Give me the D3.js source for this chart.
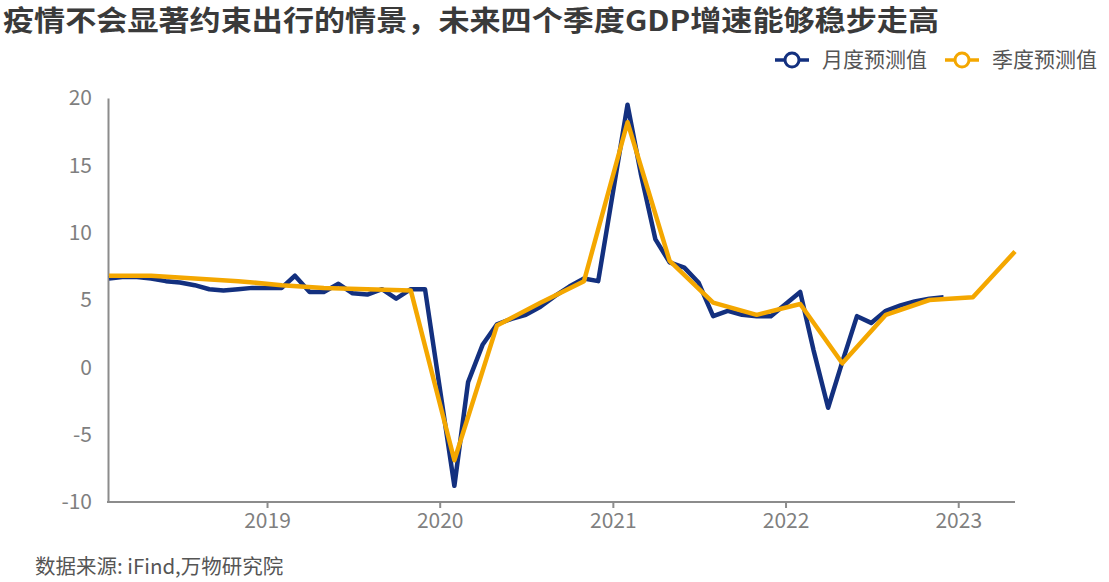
<!DOCTYPE html>
<html><head><meta charset="utf-8">
<script src="https://cdn.jsdelivr.net/npm/d3@7/dist/d3.min.js"></script>
<style>
body{margin:0;background:#fff;}
svg{display:block;font-family:"Noto Sans CJK SC","Noto Sans",sans-serif;}
</style></head><body>
<svg id="c" width="1109" height="582"></svg>
<script>
const title = "疫情不会显著约束出行的情景，未来四个季度GDP增速能够稳步走高";
const source = "数据来源: iFind,万物研究院";
const seriesNames = ["月度预测值", "季度预测值"];

// Monthly estimate (null = no monthly reading, e.g. January)
const monthlyDates = ["2018-02","2018-03","2018-04","2018-05","2018-06","2018-07","2018-08","2018-09","2018-10","2018-11","2018-12",
  "2019-01","2019-02","2019-03","2019-04","2019-05","2019-06","2019-07","2019-08","2019-09","2019-10","2019-11","2019-12",
  "2020-01","2020-02","2020-03","2020-04","2020-05","2020-06","2020-07","2020-08","2020-09","2020-10","2020-11","2020-12",
  "2021-01","2021-02","2021-03","2021-04","2021-05","2021-06","2021-07","2021-08","2021-09","2021-10","2021-11","2021-12",
  "2022-01","2022-02","2022-03","2022-04","2022-05","2022-06","2022-07","2022-08","2022-09","2022-10","2022-11","2022-12"];
const monthlyValues = [6.6,6.7,6.7,6.6,6.4,6.3,6.1,5.8,5.7,5.8,5.9,
  5.9,5.9,6.8,5.6,5.6,6.2,5.5,5.4,5.8,5.1,5.8,5.8,
  null,-8.8,-1.1,1.7,3.2,3.6,3.9,4.5,5.3,6.0,6.6,6.4,
  null,19.5,14.4,9.5,7.8,7.4,6.3,3.8,4.2,3.9,3.8,3.8,
  null,5.6,1.3,-3.0,0.4,3.8,3.3,4.2,4.6,4.9,5.1,5.2];

// Quarterly estimate, plotted at mid-quarter month
const quarterDates = ["2018-02","2018-05","2018-08","2018-11","2019-02","2019-05","2019-08","2019-11",
  "2020-02","2020-05","2020-08","2020-11","2021-02","2021-05","2021-08","2021-11",
  "2022-02","2022-05","2022-08","2022-11","2023-02","2023-05"];
const quarterValues = [6.8,6.8,6.6,6.4,6.1,5.9,5.8,5.7,
  -6.9,3.1,4.8,6.4,18.2,7.9,4.8,3.9,
  4.7,0.3,3.9,5.0,5.2,8.6];

const yTicks = [-10,-5,0,5,10,15,20];
const xTickYears = ["2019","2020","2021","2022","2023"];
const xDomain = ["2018-02","2023-05"];

const BLUE = "#13307f", GOLD = "#f4a700";
const parse = d3.timeParse("%Y-%m");
const svg = d3.select("#c");

const x = d3.scaleTime().domain(xDomain.map(parse)).range([109, 1015]);
const y = d3.scaleLinear().domain([-10, 20]).range([502, 98]);

// title
svg.append("text").attr("x", 3).attr("y", 31)
  .attr("font-size", 28).attr("font-weight", "bold").attr("fill", "#3a3a3a")
  .attr("textLength", 936).attr("lengthAdjust", "spacingAndGlyphs")
  .text(title);

// axes
const yAxis = svg.append("g").attr("transform", "translate(108,0)")
  .call(d3.axisLeft(y).tickValues(yTicks).tickFormat(d => String(d)).tickSize(0).tickPadding(16));
yAxis.select(".domain").attr("stroke", "#8c8c8c").attr("stroke-width", 2);
yAxis.selectAll("text").attr("font-size", 21).attr("fill", "#7f7f7f")
  .attr("font-family", "'Noto Sans CJK SC',sans-serif");

const xAxis = svg.append("g").attr("transform", "translate(0,502)")
  .call(d3.axisBottom(x).tickValues(xTickYears.map(d => d3.timeParse("%Y")(d)))
    .tickFormat(d3.timeFormat("%Y")).tickSize(6).tickSizeOuter(0).tickPadding(5));
xAxis.select(".domain").attr("stroke", "#8c8c8c").attr("stroke-width", 2)
  .attr("d", "M" + 107 + ",0H1015");
xAxis.selectAll(".tick line").attr("stroke", "#8c8c8c").attr("stroke-width", 2);
xAxis.selectAll("text").attr("font-size", 21).attr("fill", "#7f7f7f")
  .attr("font-family", "'Noto Sans CJK SC',sans-serif");

// lines
const line = d3.line().x(d => x(d.date)).y(d => y(d.v));
const monthly = monthlyDates.map((d, i) => ({date: parse(d), v: monthlyValues[i]})).filter(d => d.v !== null);
const quarterly = quarterDates.map((d, i) => ({date: parse(d), v: quarterValues[i]}));

svg.append("path").datum(monthly).attr("d", line)
  .attr("fill", "none").attr("stroke", BLUE).attr("stroke-width", 4.5).attr("stroke-linejoin", "round");
svg.append("path").datum(quarterly).attr("d", line)
  .attr("fill", "none").attr("stroke", GOLD).attr("stroke-width", 4.5).attr("stroke-linejoin", "round");

// legend
const legendItems = [{name: seriesNames[0], color: BLUE, x: 775}, {name: seriesNames[1], color: GOLD, x: 945}];
const lg = svg.append("g");
legendItems.forEach(it => {
  const g = lg.append("g").attr("transform", `translate(${it.x},60)`);
  g.append("line").attr("x1", 0).attr("x2", 34).attr("y1", 0).attr("y2", 0)
    .attr("stroke", it.color).attr("stroke-width", 3.5);
  g.append("circle").attr("cx", 17).attr("cy", 0).attr("r", 7)
    .attr("fill", "#fff").attr("stroke", it.color).attr("stroke-width", 3);
  g.append("text").attr("x", 47).attr("y", 0).attr("dy", "0.35em")
    .attr("font-size", 21).attr("fill", "#555").text(it.name);
});

// source
svg.append("text").attr("x", 35).attr("y", 574)
  .attr("font-size", 20.5).attr("fill", "#555").text(source);
</script>
</body></html>
